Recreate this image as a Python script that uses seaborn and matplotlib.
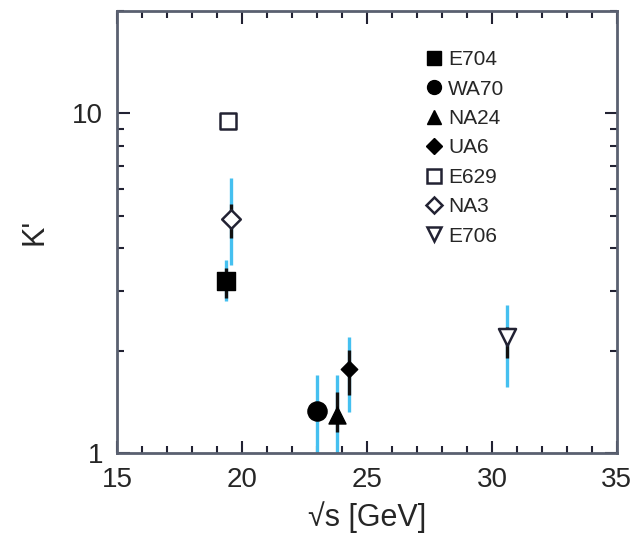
import numpy as np
import pandas as pd
import matplotlib
matplotlib.use("Agg")
import matplotlib.pyplot as plt
import seaborn as sns
from matplotlib.ticker import FixedLocator, NullFormatter, FixedFormatter
from matplotlib.lines import Line2D

experiments = ["E704", "WA70", "NA24", "UA6", "E629", "NA3", "E706"]
sqrt_s = [19.35, 23.0, 23.8, 24.3, 19.45, 19.55, 30.6]
k_factor = [3.2, 1.33, 1.29, 1.77, 9.5, 4.9, 2.19]
stat_lo = [2.86, 1.26, 1.15, 1.48, np.nan, 4.3, 1.91]
stat_hi = [3.5, 1.41, 1.51, 2.01, np.nan, 5.4, 2.35]
tot_lo = [2.8, 0.9, 0.9, 1.32, np.nan, 3.57, 1.56]
tot_hi = [3.7, 1.7, 1.7, 2.19, np.nan, 6.44, 2.72]

markers = {"E704": "s", "WA70": "o", "NA24": "^", "UA6": "D",
           "E629": "s", "NA3": "D", "E706": "v"}
filled = {"E704": True, "WA70": True, "NA24": True, "UA6": True,
          "E629": False, "NA3": False, "E706": False}
sizes = {"E704": 150, "WA70": 190, "NA24": 150, "UA6": 70,
         "E629": 130, "NA3": 90, "E706": 150}

df = pd.DataFrame({"exp": experiments, "x": sqrt_s, "k": k_factor,
                   "slo": stat_lo, "shi": stat_hi, "tlo": tot_lo, "thi": tot_hi})

sns.set_style("ticks")
plt.rcParams["font.family"] = ["Liberation Sans", "DejaVu Sans"]

fig = plt.figure(figsize=(6.34, 5.38), dpi=100)
ax = fig.add_axes([0.1845, 0.158, 0.7885, 0.8216])

cyan = "#45c0f0"
d = df.dropna(subset=["tlo"])
ax.vlines(d["x"], d["tlo"], d["thi"], color=cyan, lw=2.4, zorder=2)
ax.vlines(d["x"], d["slo"], d["shi"], color="#111111", lw=2.4, zorder=3)

for e in experiments:
    sub = df[df["exp"] == e]
    if filled[e]:
        sns.scatterplot(data=sub, x="x", y="k", marker=markers[e], s=sizes[e],
                        color="black", edgecolor="black", linewidth=1, ax=ax, zorder=4,
                        legend=False)
    else:
        sns.scatterplot(data=sub, x="x", y="k", marker=markers[e], s=sizes[e],
                        facecolor="white", edgecolor="#222233", linewidth=1.8, ax=ax,
                        zorder=4, legend=False)

ax.set_yscale("log")
ax.set_xlim(15, 35)
ax.set_ylim(1, 20)

ax.xaxis.set_major_locator(FixedLocator([15, 20, 25, 30, 35]))
ax.xaxis.set_minor_locator(FixedLocator(np.arange(15, 36, 1)))
ax.yaxis.set_major_locator(FixedLocator([1, 10]))
ax.yaxis.set_major_formatter(FixedFormatter(["1", "10"]))
ax.yaxis.set_minor_locator(FixedLocator([2, 3, 4, 5, 6, 7, 8, 9, 20]))
ax.yaxis.set_minor_formatter(NullFormatter())

spine_c = "#5a6070"
for s in ax.spines.values():
    s.set_visible(True)
    s.set_color(spine_c)
    s.set_linewidth(2.0)

ax.tick_params(which="both", direction="in", top=True, right=True,
               color="#222233", width=1.5)
ax.tick_params(which="major", length=9, labelsize=20, pad=10)
ax.tick_params(which="minor", length=5)

ax.set_xlabel("\u221as [GeV]", fontsize=22, labelpad=6)
ax.set_ylabel("K'", fontsize=22, labelpad=16)

handles = []
for e in experiments:
    if filled[e]:
        h = Line2D([], [], ls="none", marker=markers[e], markersize=10 if markers[e] != "D" else 8,
                   markerfacecolor="black", markeredgecolor="black")
    else:
        h = Line2D([], [], ls="none", marker=markers[e], markersize=10 if markers[e] != "D" else 8,
                   markerfacecolor="white", markeredgecolor="#222233", markeredgewidth=1.8)
    handles.append(h)
ax.legend(handles, experiments, loc="upper left", bbox_to_anchor=(0.6, 0.93),
          frameon=False, fontsize=15, handlelength=0.8, handletextpad=0.3,
          labelspacing=0.5, borderaxespad=0)

fig.savefig("out.png", dpi=100)
